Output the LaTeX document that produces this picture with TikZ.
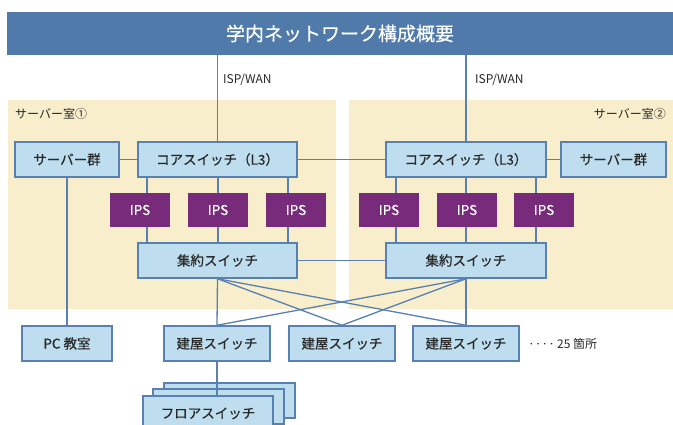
\documentclass[tikz,border=0pt]{standalone}
\usepackage{fontspec}
\setmainfont{Noto Sans CJK JP}
\newfontfamily\medfont{Noto Sans CJK JP}[FakeBold=0.5]
\definecolor{boxblue}{RGB}{190,222,240}
\definecolor{lineblue}{RGB}{88,128,176}
\definecolor{ipspurple}{RGB}{119,43,122}
\definecolor{titleblue}{RGB}{79,122,170}
\definecolor{panelbeige}{RGB}{248,238,204}
\definecolor{textgray}{RGB}{40,40,40}
\begin{document}
\begin{tikzpicture}[x=1pt,y=-1pt,
  box/.style={draw=lineblue, fill=boxblue, line width=1.5pt, minimum height=35pt,
    inner sep=0pt, text=textgray, font=\medfont\fontsize{13.5}{16}\selectfont},
  ipsbox/.style={fill=ipspurple, minimum width=60pt, minimum height=34pt, inner sep=0pt,
    text=white, font=\medfont\fontsize{13.5}{16}\selectfont},
  panel/.style={fill=panelbeige, inner sep=0pt},
  conn/.style={draw=lineblue, line width=1.3pt},
  lbl/.style={text=textgray, inner sep=0pt, font=\fontsize{12}{14}\selectfont}]
\useasboundingbox (0,0) rectangle (673,425);
\clip (0,0) rectangle (673,425);
% panels
\node[panel, minimum width=328pt, minimum height=209pt] (room1) at (172,204.5) {};
\node[panel, minimum width=324pt, minimum height=209pt] (room2) at (511,204.5) {};
\node[lbl, anchor=west] (room1lbl) at (15,114) {サーバー室①};
\node[lbl, anchor=east] (room2lbl) at (666,114) {サーバー室②};
% title
\node[fill=titleblue, minimum width=666pt, minimum height=43pt, inner sep=0pt, text=white,
  font=\medfont\fontsize{19}{22}\selectfont] (title) at (340,33.5) {学内ネットワーク構成概要};
\node[lbl, anchor=west] (isp1) at (223,80) {ISP/WAN};
\node[lbl, anchor=west] (isp2) at (475,80) {ISP/WAN};
% row of core switches
\node[box, minimum width=104pt] (srv1) at (67,159.5) {サーバー群};
\node[box, minimum width=159pt] (core1) at (217.5,159.5) {コアスイッチ（L3）};
\node[box, minimum width=160pt] (core2) at (466,159.5) {コアスイッチ（L3）};
\node[box, minimum width=105pt] (srv2) at (613.5,159.5) {サーバー群};
% IPS
\node[ipsbox] (ips1) at (140,210) {IPS};
\node[ipsbox] (ips2) at (218,210) {IPS};
\node[ipsbox] (ips3) at (296,210) {IPS};
\node[ipsbox] (ips4) at (389,210) {IPS};
\node[ipsbox] (ips5) at (467,210) {IPS};
\node[ipsbox] (ips6) at (544,210) {IPS};
% aggregation
\node[box, minimum width=159pt] (agg1) at (217.5,260.5) {集約スイッチ};
\node[box, minimum width=160pt] (agg2) at (466,260.5) {集約スイッチ};
% bottom row
\node[box, minimum width=90pt] (pc) at (67,343.5) {PC 教室};
\node[box, minimum width=106pt] (b1) at (217,343.5) {建屋スイッチ};
\node[box, minimum width=106pt] (b2) at (342,343.5) {建屋スイッチ};
\node[box, minimum width=106pt] (b3) at (466,343.5) {建屋スイッチ};
\node[lbl, anchor=west] (more) at (528,343.5) {····\,25 箇所};
% floor switches
\node[box, minimum width=131pt] (fl3) at (229.5,400.5) {};
\node[box, minimum width=131pt] (fl2) at (218.5,406.5) {};
\node[box, minimum width=130pt] (fl1) at (208,413.5) {フロアスイッチ};
% connectors
\draw[conn] (core1.north) -- (core1.north |- title.south);
\draw[conn] (core2.north) -- (core2.north |- title.south);
\draw[conn] (srv1.east) -- (core1.west);
\draw[conn] (core1.east) -- (core2.west);
\draw[conn] (core2.east) -- (srv2.west);
\draw[conn] (agg1.east) -- (agg2.west);
\foreach \i/\s/\c/\a in {1/7/core1/agg1, 2/0/core1/agg1, 3/-8/core1/agg1,
                        4/7/core2/agg2, 5/-1/core2/agg2, 6/-8/core2/agg2} {
  \draw[conn] ([xshift=\s pt]ips\i.north) -- ([xshift=\s pt]ips\i.north |- \c.south);
  \draw[conn] ([xshift=\s pt]ips\i.south) -- ([xshift=\s pt]ips\i.south |- \a.north);
}
\draw[conn] (srv1.south) -- (pc.north);
\foreach \a in {agg1, agg2} {
  \foreach \b in {b1, b2, b3} {
    \draw[conn] (\a.south) -- (\b.north);
  }
}
\draw[conn] (b1.south) -- (b1.south |- fl1.north);
\end{tikzpicture}
\end{document}
